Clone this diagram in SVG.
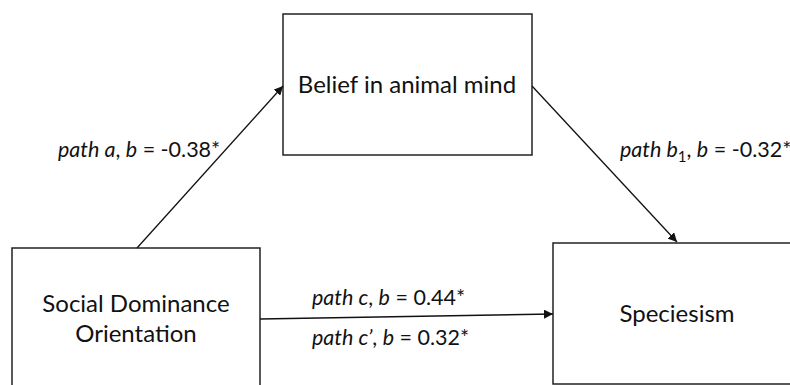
<svg xmlns="http://www.w3.org/2000/svg" width="790" height="385" viewBox="0 0 790 385">
<style>
.box{fill:#fff;stroke:#222;stroke-width:1.5}
.node{font-family:Lato,"Open Sans",sans-serif;font-size:24px;fill:#111;text-anchor:middle}
.lbl{font-family:Lato,"Open Sans",sans-serif;font-size:21.5px;fill:#111}
.edge{stroke:#111;stroke-width:1.3;fill:none;marker-end:url(#ah)}
</style>
<defs>
<marker id="ah" viewBox="0 0 10 10" refX="10" refY="5" markerWidth="9" markerHeight="9" markerUnits="userSpaceOnUse" orient="auto">
<path d="M0,0 L10,5 L0,10 z" fill="#111"/>
</marker>
</defs>
<rect width="790" height="385" fill="#fff"/>
<g id="belief">
<rect class="box" x="283" y="14" width="249" height="141"/>
<text class="node" x="407" y="93">Belief in animal mind</text>
</g>
<g id="sdo">
<rect class="box" x="12" y="248" width="248" height="150"/>
<text class="node" x="136" y="312">Social Dominance</text>
<text class="node" x="136" y="342">Orientation</text>
</g>
<g id="speciesism">
<rect class="box" x="553" y="243" width="250" height="141"/>
<text class="node" x="677" y="322">Speciesism</text>
</g>
<g id="connectors">
<line class="edge" x1="137" y1="248" x2="283" y2="86"/>
<line class="edge" x1="532" y1="86" x2="677" y2="242"/>
<line class="edge" x1="260" y1="319" x2="553" y2="314"/>
</g>
<g id="labels">
<text class="lbl" x="58" y="157"><tspan font-style="italic">path a</tspan>, <tspan font-style="italic">b</tspan> = -0.38*</text>
<text class="lbl" x="620" y="157"><tspan font-style="italic">path b</tspan><tspan font-size="15" dy="5">1</tspan><tspan dy="-5">, </tspan><tspan font-style="italic">b</tspan> = -0.32*</text>
<text class="lbl" x="312" y="305"><tspan font-style="italic">path c</tspan>, <tspan font-style="italic">b</tspan> = 0.44*</text>
<text class="lbl" x="312" y="345"><tspan font-style="italic">path c’</tspan>, <tspan font-style="italic">b</tspan> = 0.32*</text>
</g>
</svg>
